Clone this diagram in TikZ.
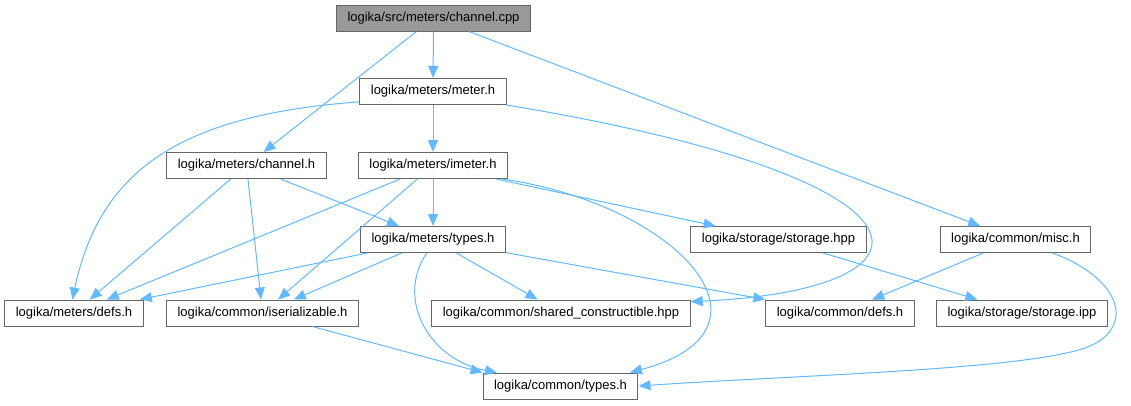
\documentclass[tikz,border=0pt]{standalone}
\usepackage{fontspec}
\setmainfont{Liberation Sans}
\usepackage{xcolor}
\usetikzlibrary{arrows.meta}

\definecolor{edgeblue}{HTML}{63B8FF}
\definecolor{boxgray}{HTML}{666666}
\definecolor{rootfill}{HTML}{999999}

\begin{document}
\begin{tikzpicture}[
    x=1pt, y=-1pt,
    file/.style={draw=boxgray, line width=1pt, fill=white, minimum height=26pt, inner xsep=11pt, inner ysep=0pt, font=\fontsize{13}{15}\selectfont},
    rootfile/.style={file, fill=rootfill},
    line/.style={draw=edgeblue, line width=1pt, -{Triangle[length=12pt,width=10pt]}}
]
\useasboundingbox (0,0) rectangle (1131,405);

\node[rootfile] (channelcpp) at (433.5,18) {logika/src/meters/channel.cpp};

\node[file] (meter) at (433,91.5) {logika/meters/meter.h};

\node[file] (channelh) at (246.5,165.5) {logika/meters/channel.h};
\node[file] (imeter) at (433,165.5) {logika/meters/imeter.h};

\node[file] (mtypes) at (433,239.5) {logika/meters/types.h};
\node[file] (storagehpp) at (778.5,239.5) {logika/storage/storage.hpp};
\node[file] (misc) at (1015.5,239.5) {logika/common/misc.h};

\node[file] (mdefs) at (74,313) {logika/meters/defs.h};
\node[file] (iser) at (262.5,313) {logika/common/iserializable.h};
\node[file] (shared) at (561,313) {logika/common/shared\_constructible.hpp};
\node[file] (cdefs) at (840,313) {logika/common/defs.h};
\node[file] (storageipp) at (1022,313) {logika/storage/storage.ipp};

\node[file] (ctypes) at (560.5,386) {logika/common/types.h};

% channel.cpp
\draw[line] (channelcpp) -- (meter);
\draw[line] (channelcpp) -- (channelh);
\draw[line] (channelcpp) -- (misc);

% meter.h
\draw[line] (meter.188) .. controls (180,115) and (100,170) .. (mdefs.97);
\draw[line] (meter) -- (imeter);
\draw[line] (meter.south east) .. controls (960,180) and (950,290) .. (shared.5);

% channel.h
\draw[line] (channelh) -- (mdefs);
\draw[line] (channelh) -- (iser);
\draw[line] (channelh) -- (mtypes);

% imeter.h
\draw[line] (imeter) -- (mdefs);
\draw[line] (imeter) -- (iser);
\draw[line] (imeter) -- (mtypes);
\draw[line] (imeter) -- (storagehpp);
\draw[line] (imeter.-11) .. controls (680,205) and (790,330) .. (ctypes.11);

% meters/types.h
\draw[line] (mtypes) -- (mdefs);
\draw[line] (mtypes) -- (iser);
\draw[line] (mtypes.-115) .. controls (395,300) and (430,360) .. (ctypes.168);
\draw[line] (mtypes) -- (shared);
\draw[line] (mtypes) -- (cdefs);

% the rest
\draw[line] (storagehpp) -- (storageipp);
\draw[line] (misc) -- (cdefs);
\draw[line] (misc.-20) .. controls (1125,280) and (1135,330) .. (1085,348)
    .. controls (1020,370) and (800,375) .. (ctypes.east);
\draw[line] (iser) -- (ctypes.north west);

\end{tikzpicture}
\end{document}
